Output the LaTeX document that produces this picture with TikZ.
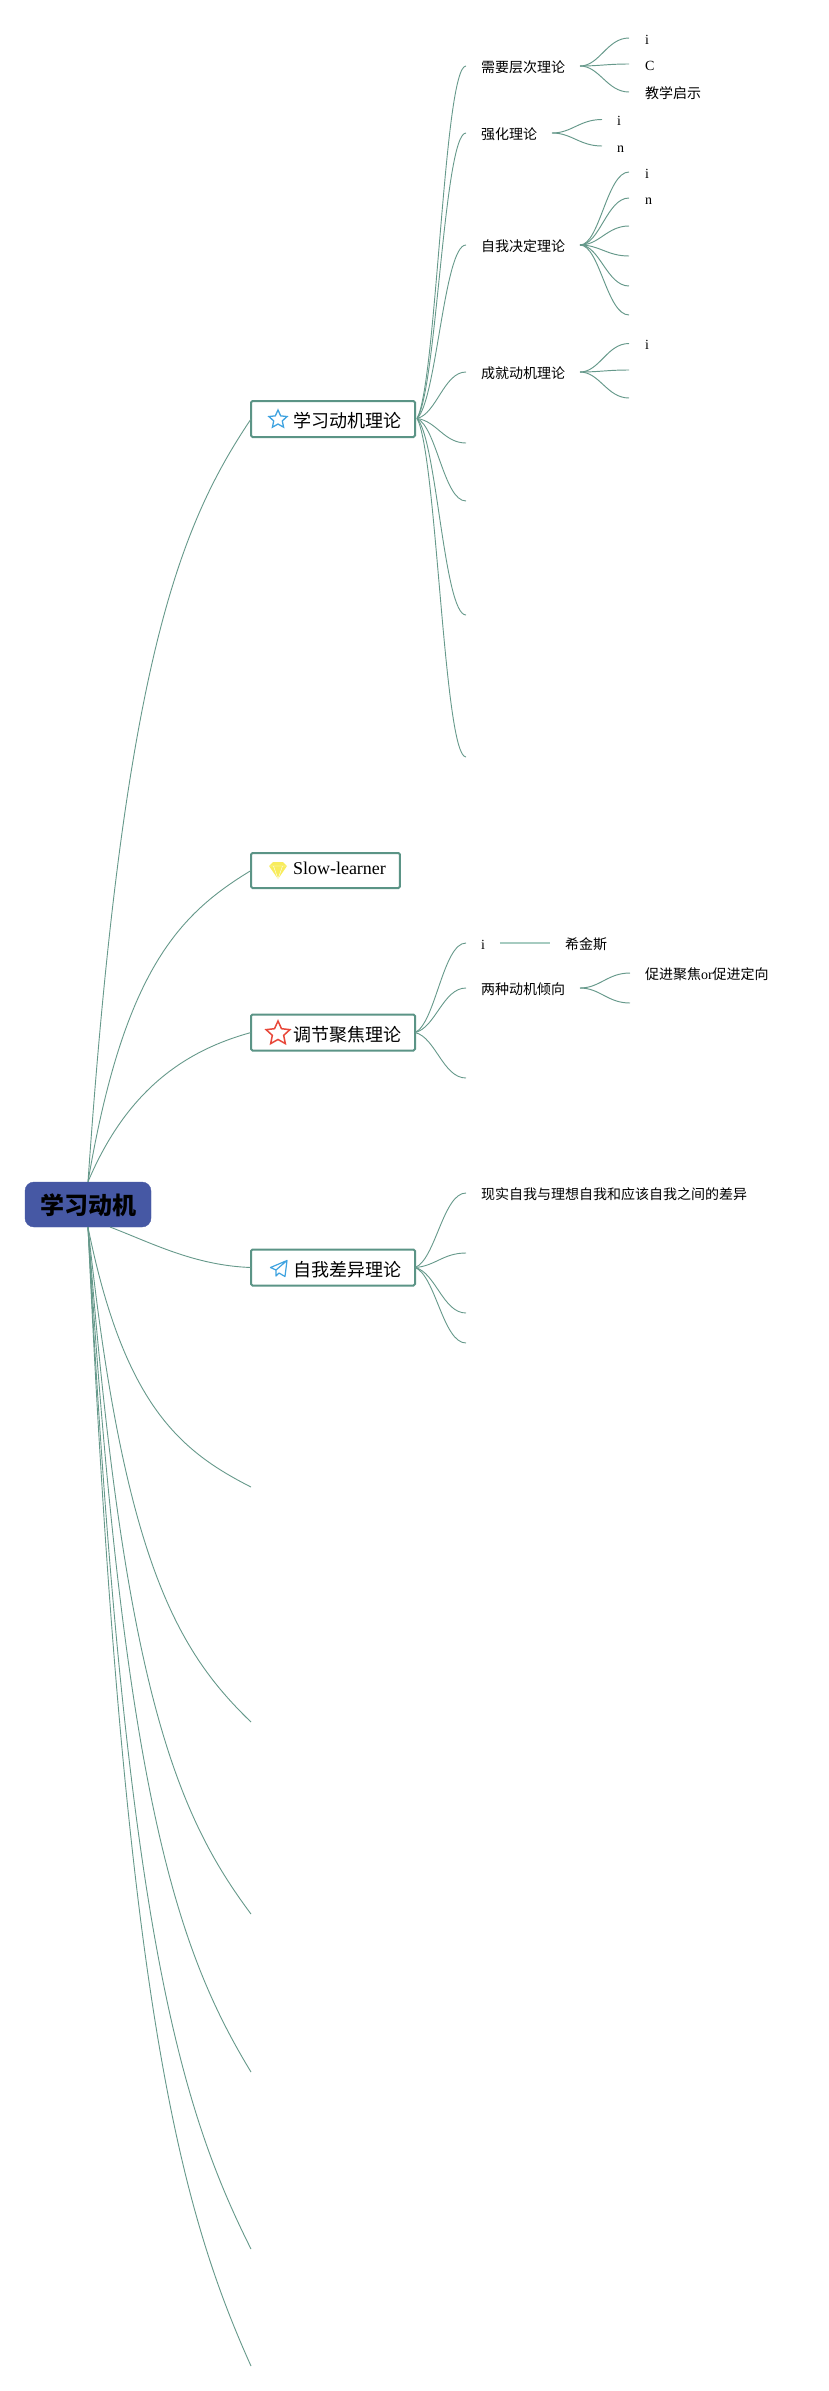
\documentclass[tikz,border=0pt]{standalone}
\usepackage{fontspec}
\setmainfont{Liberation Serif}
\newfontfamily\cjk{Noto Sans CJK SC}
\usetikzlibrary{calc,shapes.geometric}
\definecolor{linec}{HTML}{66998B}
\definecolor{boxc}{HTML}{5B9486}
\definecolor{rootc}{HTML}{4658A4}
\definecolor{lightc}{HTML}{A6CBC0}
\definecolor{starblue}{HTML}{3FA3E0}
\definecolor{starred}{HTML}{E8483A}
\definecolor{gemy}{HTML}{F8EC5C}
\tikzset{
  bez/.style n args={4}{to path={let \p1=(\tikztostart),\p2=(\tikztotarget) in
    .. controls (\x1+#1*\x2-#1*\x1,\y1+#2*\y2-#2*\y1) and (\x1+#3*\x2-#3*\x1,\y1+#4*\y2-#4*\y1) .. (\tikztotarget)}},
  conn/.style={draw=linec,line width=0.9pt},
  rootlink/.style={conn,bez={0.22}{0.68}{0.56}{0.86}},
  sublink/.style={conn,bez={0.4}{0.1}{0.55}{1}},
  leaflink/.style={conn,line width=0.95pt,bez={0.4}{0}{0.55}{1}},
  rootnode/.style={rectangle,rounded corners=9pt,fill=rootc,draw=rootc,minimum width=126pt,minimum height=45pt,inner sep=0pt,text height=20pt,text depth=0pt,font=\fontsize{24}{26}\selectfont\cjk\bfseries,text=black},
  topic/.style={rectangle,anchor=west,draw=boxc,line width=2pt,rounded corners=1.5pt,fill=white,inner xsep=14pt,inner ysep=0pt,outer sep=0pt,minimum height=36pt,font=\fontsize{18}{20}\selectfont},
  sub/.style={anchor=west,inner xsep=15pt,inner ysep=0pt,outer sep=0pt,text height=12pt,text depth=0pt,font=\fontsize{14}{16}\selectfont},
  staricon/.style={star,star points=5,star point ratio=2.1,inner sep=0pt,fill=white,line width=1.3pt},
}
\begin{document}
\begin{tikzpicture}[x=1pt,y=-1pt]
\useasboundingbox (0,0) rectangle (829,2391);
\fill[white] (0,0) rectangle (829,2391);

% root and topics
\node[rootnode] (root) at (88,1204.5) {学习动机};
\coordinate (rootb) at (110,1227);
\node[topic,text height=16pt,text depth=0pt] (t1) at (251,419) {\hspace{28pt}{\cjk 学习动机理论}};
\node[topic,text height=7pt,text depth=0pt,minimum height=35pt] (t2) at (251,870.5) {\hspace{28pt}Slow-learner};
\node[topic,text height=17pt,text depth=0pt] (t3) at (251,1032.5) {\hspace{28pt}{\cjk 调节聚焦理论}};
\node[topic,text height=17pt,text depth=0pt] (t4) at (251,1267.5) {\hspace{28pt}{\cjk 自我差异理论}};
\coordinate (e1) at (251,1487);
\coordinate (e2) at (251,1722);
\coordinate (e3) at (251,1914);
\coordinate (e4) at (251,2072);
\coordinate (e5) at (251,2249);
\coordinate (e6) at (251,2366);

\path[rootlink] (root.north) to (t1.west);
\path[rootlink] (root.north) to (t2.west);
\path[conn,bez={0.24}{0.62}{0.6}{0.88}] (root.north) to (t3.west);
\path[conn,bez={0.3}{0.4}{0.6}{0.95}] (rootb) to (t4.west);
\foreach \e in {e1,e2,e3,e4,e5,e6} \path[rootlink] (root.south) to (\e);

% icons
\node[staricon,draw=starblue,minimum size=19pt] (ic1) at (278,419.5) {};
\node[staricon,draw=starred,minimum size=25pt,line width=1.5pt] (ic3) at (278,1033.5) {};
\fill[gemy] (269,866) -- (273,862) -- (283,862) -- (287,866) -- (278,879) -- cycle;
\draw[white,line width=0.4pt] (269,866) -- (287,866) (273.5,866) -- (278,879) -- (282.5,866);
\draw[starblue,line width=1.2pt,line join=round] (287,1260.5) -- (270.5,1267.5) -- (276,1270) -- (287,1260.5) -- (285,1276.5) -- (279,1273) -- (276,1276) -- (276,1270);

% level 2 of topic 1
\coordinate (t1h) at (417,418.5);
\node[sub] (a1) at (466,66) {\cjk 需要层次理论};
\node[sub] (a2) at (466,133) {\cjk 强化理论};
\node[sub] (a3) at (466,245) {\cjk 自我决定理论};
\node[sub] (a4) at (466,372) {\cjk 成就动机理论};
\coordinate (a5) at (466,443);
\coordinate (a6) at (466,501);
\coordinate (a7) at (466,615);
\coordinate (a8) at (466,757);
\foreach \e in {a1,a2,a3,a4} \path[sublink] (t1h) to (\e.west);
\foreach \e in {a5,a6,a7,a8} \path[sublink] (t1h) to (\e);

% leaves of 需要层次理论
\node[sub,inner xsep=16pt] (a1x) at (629,38) {i};
\node[sub,inner xsep=16pt] (a1y) at (629,64) {C};
\node[sub,inner xsep=16pt] (a1z) at (629,92) {\cjk 教学启示};
\foreach \e in {a1x,a1y,a1z} \path[leaflink] (a1.east) to (\e.west);

% leaves of 强化理论
\node[sub,inner xsep=15pt] (a2x) at (602,119.5) {i};
\node[sub,inner xsep=15pt] (a2y) at (602,146) {n};
\foreach \e in {a2x,a2y} \path[leaflink] (a2.east) to (\e.west);

% leaves of 自我决定理论
\node[sub,inner xsep=16pt] (a3x) at (629,172) {i};
\node[sub,inner xsep=16pt] (a3y) at (629,198) {n};
\coordinate (a3p) at (629,226);
\coordinate (a3q) at (629,256);
\coordinate (a3r) at (629,286);
\coordinate (a3s) at (629,315);
\foreach \e in {a3x,a3y} \path[leaflink] (a3.east) to (\e.west);
\foreach \e in {a3p,a3q,a3r,a3s} \path[leaflink] (a3.east) to (\e);

% leaves of 成就动机理论
\node[sub,inner xsep=16pt] (a4x) at (629,343.5) {i};
\coordinate (a4y) at (629,370);
\coordinate (a4z) at (629,398);
\path[leaflink] (a4.east) to (a4x.west);
\foreach \e in {a4y,a4z} \path[leaflink] (a4.east) to (\e);

% level 2 of topic 3
\node[sub] (b1) at (466,943) {i};
\node[sub] (b2) at (466,988) {\cjk 两种动机倾向};
\coordinate (b3) at (466,1078);
\path[sublink] (t3.east) to (b1.west);
\path[sublink] (t3.east) to (b2.west);
\path[sublink] (t3.east) to (b3);
\node[sub] (b1x) at (550,943) {\cjk 希金斯};
\draw[lightc,line width=1.2pt] (b1.east) -- (b1x.west);
\node[sub] (b2x) at (630,973) {{\cjk 促进聚焦}or{\cjk 促进定向}};
\coordinate (b2y) at (630,1003);
\path[leaflink] (b2.east) to (b2x.west);
\path[leaflink] (b2.east) to (b2y);

% level 2 of topic 4
\node[sub] (c1) at (466,1193) {\cjk 现实自我与理想自我和应该自我之间的差异};
\coordinate (c2) at (466,1253);
\coordinate (c3) at (466,1313);
\coordinate (c4) at (466,1343);
\path[sublink] (t4.east) to (c1.west);
\foreach \e in {c2,c3,c4} \path[sublink] (t4.east) to (\e);
\end{tikzpicture}
\end{document}
